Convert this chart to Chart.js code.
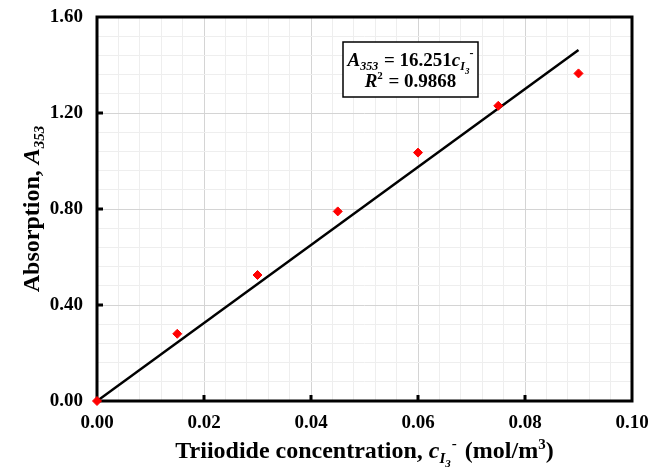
<!DOCTYPE html>
<html>
<head>
<meta charset="utf-8">
<script src="https://cdn.jsdelivr.net/npm/chart.js@4.4.1/dist/chart.umd.min.js"></script>
<style>
    html, body { margin: 0; padding: 0; background: #fff; }
</style>
</head>
<body>
<canvas id="absChart" width="662" height="468"></canvas>
<script>
// measured points
var concentration = [0, 0.015, 0.03, 0.045, 0.06, 0.075, 0.09];
var absorption = [0, 0.28, 0.525, 0.79, 1.035, 1.23, 1.365];
// linear fit A = 16.251 c, drawn between its two ends
var fitX = [0, 0.09];
var fitY = [0, 1.4626];

var xMajor = 0.02, xMinor = 0.004;
var yMajor = 0.4, yMinor = 0.08;

var SERIF = '"Liberation Serif", "Times New Roman", serif';

function isMajor(v, step) {
    var r = v / step;
    return Math.abs(r - Math.round(r)) < 1e-6;
}

function toPoints(xs, ys) {
    return xs.map(function (x, i) { return { x: x, y: ys[i] }; });
}

// draws a run of text pieces with their own font and vertical shift
function drawRich(ctx, parts, x, y, align) {
    var total = 0;
    parts.forEach(function (p) {
        ctx.font = p.font;
        p.w = ctx.measureText(p.text).width;
        total += p.w + (p.gap || 0);
    });
    var cx = align === "center" ? x - total / 2 : x;
    ctx.textAlign = "left";
    ctx.textBaseline = "alphabetic";
    parts.forEach(function (p) {
        ctx.font = p.font;
        ctx.fillText(p.text, cx, y + (p.dy || 0));
        cx += p.w + (p.gap || 0);
    });
}

function b(size) { return "bold " + size + "px " + SERIF; }
function bi(size) { return "italic bold " + size + "px " + SERIF; }

var framePlugin = {
    id: "frame",
    beforeDatasetsDraw: function (chart) {
        var ctx = chart.ctx, a = chart.chartArea;
        var xs = chart.scales.x, ys = chart.scales.y;
        ctx.save();
        ctx.strokeStyle = "#000";
        ctx.lineWidth = 3;
        ctx.strokeRect(a.left, a.top, a.right - a.left, a.bottom - a.top);
        // inward major ticks on left and bottom
        ctx.beginPath();
        for (var v = yMajor; v < 1.6 - 1e-9; v += yMajor) {
            var py = Math.round(ys.getPixelForValue(v));
            ctx.moveTo(a.left, py);
            ctx.lineTo(a.left + 6, py);
        }
        for (var u = xMajor; u < 0.1 - 1e-9; u += xMajor) {
            var px = Math.round(xs.getPixelForValue(u));
            ctx.moveTo(px, a.bottom);
            ctx.lineTo(px, a.bottom - 6);
        }
        ctx.stroke();
        ctx.restore();
    },
    afterDraw: function (chart) {
        var ctx = chart.ctx, a = chart.chartArea;
        ctx.save();
        ctx.fillStyle = "#000";

        // x axis title
        drawRich(ctx, [
            { text: "Triiodide concentration, ", font: b(24) },
            { text: "c", font: bi(24) },
            { text: "I", font: bi(15), dy: 5 },
            { text: "3", font: bi(11), dy: 9, gap: 1 },
            { text: "-", font: b(15), dy: -10, gap: 2 },
            { text: " (mol/m", font: b(24) },
            { text: "3", font: b(15), dy: -9 },
            { text: ")", font: b(24) }
        ], (a.left + a.right) / 2, 458, "center");

        // y axis title
        ctx.save();
        ctx.translate(39, (a.top + a.bottom) / 2);
        ctx.rotate(-Math.PI / 2);
        drawRich(ctx, [
            { text: "Absorption, ", font: b(24) },
            { text: "A", font: bi(24) },
            { text: "353", font: bi(15), dy: 5 }
        ], 0, 0, "center");
        ctx.restore();

        // fit equation box
        var bx = 343, by = 42, bw = 135, bh = 55;
        ctx.fillStyle = "#fff";
        ctx.fillRect(bx, by, bw, bh);
        ctx.strokeStyle = "#000";
        ctx.lineWidth = 1.5;
        ctx.strokeRect(bx, by, bw, bh);
        ctx.fillStyle = "#000";
        drawRich(ctx, [
            { text: "A", font: bi(19) },
            { text: "353", font: bi(12), dy: 4, gap: 1 },
            { text: " = 16.251", font: b(19) },
            { text: "c", font: bi(19) },
            { text: "I", font: bi(12), dy: 4 },
            { text: "3", font: bi(9), dy: 8 },
            { text: "-", font: b(12), dy: -9 }
        ], bx + bw / 2, by + 24, "center");
        drawRich(ctx, [
            { text: "R", font: bi(19) },
            { text: "2", font: b(11), dy: -8, gap: 1 },
            { text: " = 0.9868", font: b(19) }
        ], bx + bw / 2, by + 45, "center");
        ctx.restore();
    }
};

new Chart(document.getElementById("absChart"), {
    type: "scatter",
    data: {
        datasets: [
            {
                label: "Linear fit",
                type: "line",
                data: toPoints(fitX, fitY),
                borderColor: "#000",
                borderWidth: 2.5,
                pointRadius: 0,
                fill: false,
                order: 2
            },
            {
                label: "Measured",
                data: toPoints(concentration, absorption),
                pointStyle: "rectRot",
                pointRadius: 4.5,
                backgroundColor: "#ff0000",
                borderColor: "#ff0000",
                borderWidth: 1,
                clip: false,
                order: 1
            }
        ]
    },
    options: {
        responsive: false,
        animation: false,
        layout: { padding: { top: 17, right: 30, left: 0, bottom: 0 } },
        plugins: {
            legend: { display: false },
            tooltip: { enabled: false }
        },
        scales: {
            x: {
                type: "linear",
                min: 0,
                max: 0.1,
                afterFit: function (s) {
                    s.height = 67;
                    s.paddingLeft = 0;
                    s.paddingRight = 0;
                },
                ticks: {
                    stepSize: xMinor,
                    autoSkip: false,
                    maxRotation: 0,
                    padding: 11,
                    color: "#000",
                    font: { family: SERIF, size: 19, weight: "bold" },
                    callback: function (v) { return isMajor(v, xMajor) ? v.toFixed(2) : ""; }
                },
                grid: {
                    drawTicks: false,
                    color: function (c) { return isMajor(c.tick.value, xMajor) ? "#d4d4d4" : "#eeeeee"; }
                },
                border: { display: false }
            },
            y: {
                min: 0,
                max: 1.6,
                afterFit: function (s) {
                    s.width = 97;
                    s.paddingTop = 0;
                    s.paddingBottom = 0;
                },
                ticks: {
                    stepSize: yMinor,
                    autoSkip: false,
                    padding: 14,
                    color: "#000",
                    font: { family: SERIF, size: 19, weight: "bold" },
                    callback: function (v) { return isMajor(v, yMajor) ? v.toFixed(2) : ""; }
                },
                grid: {
                    drawTicks: false,
                    color: function (c) { return isMajor(c.tick.value, yMajor) ? "#d4d4d4" : "#eeeeee"; }
                },
                border: { display: false }
            }
        }
    },
    plugins: [framePlugin]
});
</script>
</body>
</html>
